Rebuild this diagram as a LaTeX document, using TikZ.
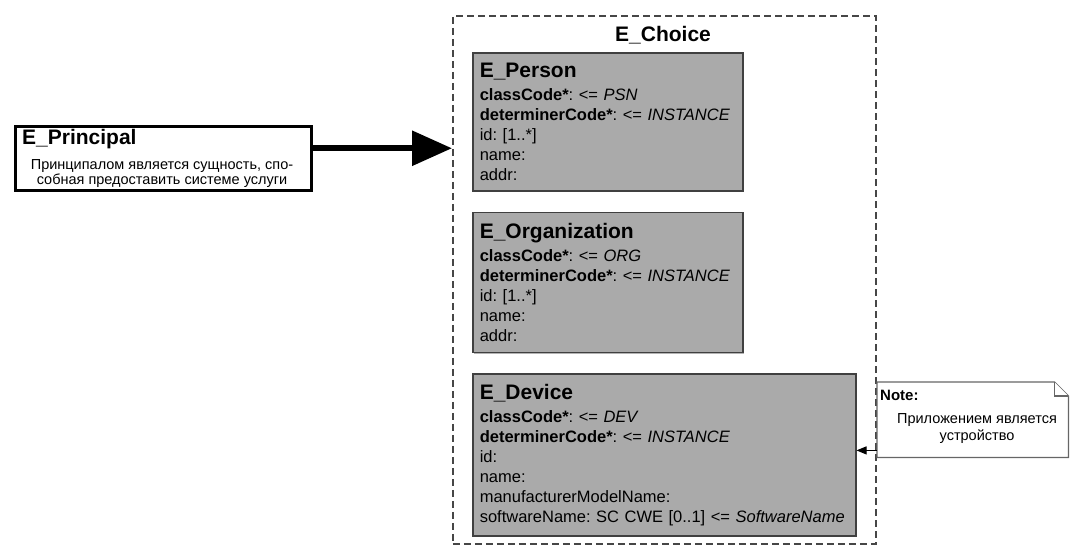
\documentclass[tikz,border=0pt]{standalone}
\usepackage{fontspec}
\setmainfont{Liberation Sans}
\usetikzlibrary{arrows.meta, positioning, shadows}

\definecolor{clsgray}{RGB}{170,170,170}
\definecolor{linegray}{RGB}{70,70,70}

\newcommand{\clstitle}[1]{{\fontsize{21}{24}\selectfont\bfseries #1}}
\frenchspacing

\begin{document}
\begin{tikzpicture}[
  x=1pt, y=-1pt,
  cls/.style={draw=black!75, line width=1.5pt, fill=clsgray, align=left, anchor=north west,
    inner xsep=7pt, inner ysep=5pt, font=\fontsize{16.5}{20}\selectfont,
    drop shadow={shadow xshift=1.5pt, shadow yshift=-1.5pt, opacity=.6}},
  choicebox/.style={draw=linegray, line width=1.5pt, dash pattern=on 7pt off 4pt,
    minimum width=423pt, minimum height=528pt, anchor=north west},
  princ/.style={draw, line width=2.5pt, fill=white, minimum width=296pt, minimum height=64pt,
    anchor=north west, drop shadow={shadow xshift=2pt, shadow yshift=-2pt, opacity=1}},
  notebox/.style={minimum width=191pt, minimum height=75pt, anchor=north west, inner sep=0pt},
  noteline/.style={draw=black!60, line width=1.2pt, fill=white},
  bigarr/.style={-{Triangle[length=40pt, width=34pt]}, line width=6pt},
  notearr/.style={-{Triangle[length=10pt, width=8pt]}, line width=1pt}
]

\useasboundingbox (0,0) rectangle (1076,547);

% container
\node[choicebox] (choice) at (452,15) {};
\node (choicetitle) at (663,35) {\clstitle{E\_Choice}};

% classes
\node[cls, text width=256pt, minimum height=138pt] (person) at (472,52) {\clstitle{E\_Person}\\[3pt]
  \textbf{classCode*}: <= \textit{PSN}\\
  \textbf{determinerCode*}: <= \textit{INSTANCE}\\
  id: [1..*]\\
  name:\\
  addr:};
\node[cls, text width=256pt, minimum height=140pt, below right=20pt and 0pt of person.south west] (org) {\clstitle{E\_Organization}\\[3pt]
  \textbf{classCode*}: <= \textit{ORG}\\
  \textbf{determinerCode*}: <= \textit{INSTANCE}\\
  id: [1..*]\\
  name:\\
  addr:};
\node[cls, text width=369pt, minimum height=162pt, below right=20pt and 0pt of org.south west] (device) {\clstitle{E\_Device}\\[3pt]
  \textbf{classCode*}: <= \textit{DEV}\\
  \textbf{determinerCode*}: <= \textit{INSTANCE}\\
  id:\\
  name:\\
  manufacturerModelName:\\
  softwareName: SC CWE [0..1] <= \textit{SoftwareName}};

% principal
\node[princ] (principal) at (14,125) {};
\node[anchor=north west, inner sep=0pt] (ptitle) at ([shift={(8pt,-4pt)}]principal.north west) {\clstitle{E\_Principal}};
\node[font=\fontsize{14.5}{15.5}\selectfont, align=center] (pdesc) at (162,173.5) {Принципалом является сущность, спо-\\собная предоставить системе услуги};

\coordinate (pport) at ([yshift=10pt]principal.east);
\draw[bigarr] (pport) -- (pport -| choice.west);

% note
\node[notebox] (note) at (877,382) {};
\draw[noteline] (note.south west) -- (note.north west) -- ([xshift=-14pt]note.north east)
  -- ([yshift=-14pt]note.north east) -- (note.south east) -- cycle;
\draw[noteline] ([xshift=-14pt]note.north east) |- ([yshift=-14pt]note.north east);
\node[anchor=north west, inner sep=0pt, font=\fontsize{15}{18}\selectfont\bfseries] (notetitle) at ([shift={(3pt,-8pt)}]note.north west) {Note:};
\node[font=\fontsize{14.5}{17}\selectfont, align=center] (notetext) at (977,429) {Приложением является\\устройство};

\coordinate (nport) at ([yshift=7pt]note.south west);
\draw[notearr] (nport) -- (nport -| device.east);

\end{tikzpicture}
\end{document}
